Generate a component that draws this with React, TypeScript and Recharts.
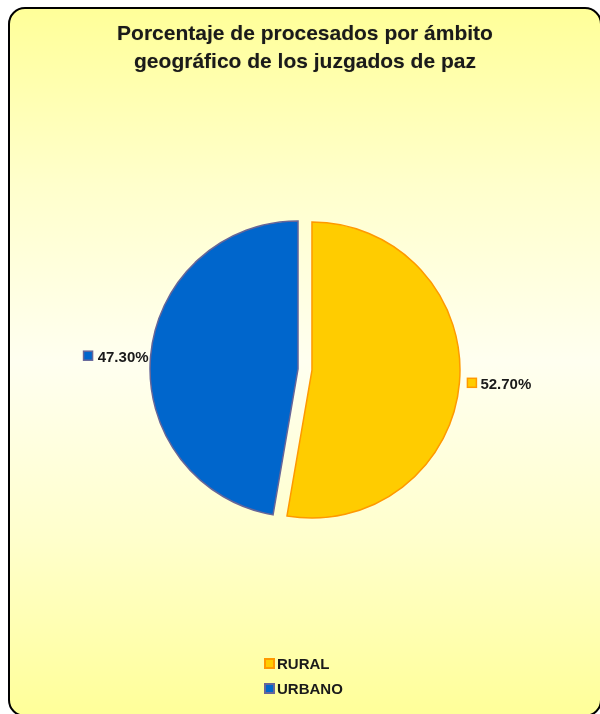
import { Legend, Pie, PieChart, Sector } from 'recharts'

const categories = ['RURAL', 'URBANO']
const shares = [52.7, 47.3]
const fills = ['#ffcc00', '#0066cc']
const strokes = ['#ff9900', '#666699']

const data = categories.map((name, i) => ({ name, value: shares[i], fill: fills[i], stroke: strokes[i] }))

const RAD = Math.PI / 180
const EXPLODE = 7
const font = "'Liberation Sans', Arial, sans-serif"

const dir = (midAngle: number) => [Math.cos(-midAngle * RAD), Math.sin(-midAngle * RAD)]

function ExplodedSector(props: any) {
  const [c, s] = dir(props.midAngle)
  return <Sector {...props} cx={props.cx + EXPLODE * c} cy={props.cy + EXPLODE * s} strokeWidth={1.5} />
}

function SliceLabel(props: any) {
  const { cx, cy, midAngle, outerRadius, index } = props
  const [c, s] = dir(midAngle)
  const right = c >= 0
  const r = outerRadius + EXPLODE + (right ? 8 : 2)
  const x = cx + r * c
  const y = cy + r * s
  const text = shares[index].toFixed(2) + '%'
  const w = 52
  const sq = right ? x : x - w - 13
  return (
    <g>
      <rect x={sq} y={y - 5} width={9} height={9} fill={fills[index]} stroke={strokes[index]} strokeWidth={1.5} />
      <text x={right ? x + 13 : x} y={y} textAnchor={right ? 'start' : 'end'} dominantBaseline="central"
        fontFamily={font} fontSize={15} fontWeight="bold" fill="#1a1a1a">
        {text}
      </text>
    </g>
  )
}

function LegendBox() {
  return (
    <div style={{ fontFamily: font, fontSize: 15, fontWeight: 'bold', color: '#1a1a1a' }}>
      {categories.map((name, i) => (
        <div key={name} style={{ display: 'flex', alignItems: 'center', height: 25 }}>
          <span style={{ display: 'inline-block', width: 7, height: 7, background: fills[i], border: `2px solid ${strokes[i]}`, marginRight: 2 }} />
          {name}
        </div>
      ))}
    </div>
  )
}

export default function App() {
  return (
    <div style={{ position: 'fixed', left: 8, top: 7, boxSizing: 'border-box', width: 594, height: 710, border: '2px solid #000', borderRadius: 17,
      background: 'linear-gradient(to bottom, #ffff99 0%, #ffffcc 25%, #fffff0 50%, #ffffcc 75%, #ffff99 100%)' }}>
      <div style={{ position: 'absolute', top: 10, left: 0, width: 590, textAlign: 'center', fontFamily: font, fontWeight: 'bold',
        fontSize: 21, lineHeight: '28px', color: '#1a1a1a', textShadow: '0 0 1px rgba(0,0,0,0.3)' }}>
        Porcentaje de procesados por ámbito<br />geográfico de los juzgados de paz
      </div>
      <PieChart width={590} height={706} margin={{ top: 0, right: 0, bottom: 0, left: 0 }}>
        <Pie data={data} dataKey="value" nameKey="name" cx={295} cy={360.5} outerRadius={148} startAngle={90} endAngle={-270}
          shape={ExplodedSector} label={SliceLabel} labelLine={false} isAnimationActive={false} />
        <Legend content={() => <LegendBox />} wrapperStyle={{ top: 642, left: 254, width: 120 }} />
      </PieChart>
    </div>
  )
}
